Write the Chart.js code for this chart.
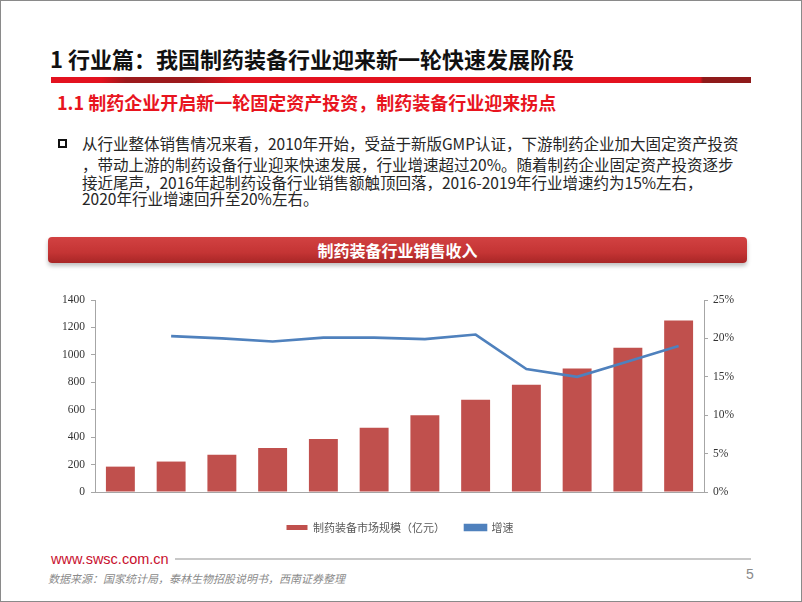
<!DOCTYPE html>
<html>
<head>
<meta charset="utf-8">
<script src="https://cdn.jsdelivr.net/npm/chart.js@4.4.1/dist/chart.umd.min.js"></script>
<style>
  html, body { margin: 0; padding: 0; background: #fff; }
  #page { position: relative; width: 802px; height: 602px; overflow: hidden; font-family: "Noto Sans CJK SC", sans-serif; }
  #frame { position: absolute; left: 0; top: 0; width: 800px; height: 600px; border: 1px solid #8a8a8a; }
  .abs { position: absolute; white-space: nowrap; }
  #title { left: 50px; top: 45px; font-size: 22px; line-height: 26px; font-weight: bold; color: #111; }
  #rule { left: 51px; top: 77px; width: 700px; height: 6px;
    background: linear-gradient(90deg, #e3121f 0px, #e3121f 50px, #9c1a1c 75px, #9c1a1c 140px, #e3121f 185px, #e3121f 645px, #e3121f 649px, #8e1a1a 652px, #8e1a1a 700px); }
  #sub { left: 57px; top: 90px; font-size: 18px; line-height: 24px; font-weight: bold; color: #e8141e; }
  #bullet { left: 58px; top: 139px; width: 5px; height: 5px; border: 2px solid #111; }
  .txt { left: 82px; font-size: 15.5px; line-height: 19px; color: #262626; }
  #banner { left: 48px; top: 237px; width: 699px; height: 26px; border-radius: 4px;
    background: linear-gradient(180deg, #d24242 0%, #c43434 60%, #a82626 100%);
    box-shadow: 0 3px 4px rgba(0,0,0,0.25);
    color: #fff; font-size: 16px; font-weight: bold; line-height: 26px; text-align: center; }
  #chartBox { position: absolute; left: 40px; top: 285px; width: 720px; height: 258px; }
  #url { left: 51px; top: 549px; font-family: "Liberation Sans", Arial, sans-serif; font-size: 14.5px; line-height: 20px; color: #c8102e; }
  #footLine { left: 175px; top: 558px; width: 576px; height: 2px; background: #c8c8c8; }
  #source { left: 48px; top: 570px; font-size: 11px; line-height: 16px; font-style: italic; color: #8a8a8a; }
  #pageNo { left: 746px; top: 566px; font-family: "Liberation Sans", Arial, sans-serif; font-size: 14px; line-height: 16px; color: #8a8a8a; }
</style>
</head>
<body>
<div id="page">
  <div id="frame"></div>
  <div class="abs" id="title">1 行业篇：我国制药装备行业迎来新一轮快速发展阶段</div>
  <div class="abs" id="rule"></div>
  <div class="abs" id="sub">1.1 制药企业开启新一轮固定资产投资，制药装备行业迎来拐点</div>
  <div class="abs" id="bullet"></div>
  <div class="abs txt" style="top:134px">从行业整体销售情况来看，2010年开始，受益于新版GMP认证，下游制药企业加大固定资产投资</div>
  <div class="abs txt" style="top:155px">，带动上游的制药设备行业迎来快速发展，行业增速超过20%。随着制药企业固定资产投资逐步</div>
  <div class="abs txt" style="top:173px">接近尾声，2016年起制药设备行业销售额触顶回落，2016-2019年行业增速约为15%左右，</div>
  <div class="abs txt" style="top:189px">2020年行业增速回升至20%左右。</div>
  <div class="abs" id="banner">制药装备行业销售收入</div>
  <div id="chartBox"><canvas id="chart"></canvas></div>
  <div class="abs" id="url">www.swsc.com.cn</div>
  <div class="abs" id="footLine"></div>
  <div class="abs" id="source">数据来源：国家统计局，泰林生物招股说明书，西南证券整理</div>
  <div class="abs" id="pageNo">5</div>
</div>
<script>
  const years = ["2009", "2010", "2011", "2012", "2013", "2014", "2015", "2016", "2017", "2018", "2019", "2020"];
  const marketSize = [185, 222, 271, 320, 387, 468, 559, 673, 782, 900, 1052, 1250]; // 亿元
  const growthRate = [null, 20.3, 20.0, 19.6, 20.1, 20.1, 19.9, 20.5, 16.0, 15.0, 17.0, 19.0]; // %
  const sizeLabel = "制药装备市场规模（亿元）";
  const growthLabel = "增速";

  const tickFont = { family: "'Liberation Serif', 'Times New Roman', serif", size: 11.5 };
  const axisColor = "#a6a6a6";

  const ctx = document.getElementById("chart").getContext("2d");
  const chart = new Chart(ctx, {
    data: {
      labels: years,
      datasets: [
        {
          type: "bar",
          label: sizeLabel,
          data: marketSize,
          backgroundColor: "#c0504d",
          borderWidth: 0,
          barPercentage: 0.57,
          categoryPercentage: 1,
          yAxisID: "y",
          order: 1,
        },
        {
          type: "line",
          label: growthLabel,
          data: growthRate,
          borderColor: "#4f81bd",
          backgroundColor: "#4f81bd",
          borderWidth: 2.6,
          pointRadius: 0,
          tension: 0,
          yAxisID: "y1",
          order: 0,
        },
      ],
    },
    options: {
      responsive: true,
      maintainAspectRatio: false,
      animation: false,
      layout: { padding: { top: 15, left: 0, right: 0, bottom: 0 } },
      plugins: {
        tooltip: { enabled: false },
        legend: {
          position: "bottom",
          labels: {
            sort: (a, b) => a.datasetIndex - b.datasetIndex,
            boxWidth: 21,
            boxHeight: 5,
            padding: 20,
            color: "#595959",
            font: { family: "'Noto Sans CJK SC', sans-serif", size: 11 },
          },
        },
      },
      scales: {
        x: {
          grid: { display: false },
          border: { display: true, color: axisColor, width: 1 },
          ticks: { color: "#333", font: tickFont, padding: 6, maxRotation: 0 },
          afterFit: (scale) => { scale.height = 10; },
        },
        y: {
          position: "left",
          min: 0,
          max: 1400,
          ticks: { stepSize: 200, color: "#333", font: tickFont, padding: 6, callback: (v) => String(v) },
          grid: { drawOnChartArea: false, drawTicks: true, tickLength: 4, color: axisColor },
          border: { display: true, color: axisColor, width: 1 },
          afterFit: (scale) => { scale.width = 55; },
        },
        y1: {
          position: "right",
          min: 0,
          max: 25,
          ticks: { stepSize: 5, color: "#333", font: tickFont, padding: 5, callback: (v) => v + "%" },
          grid: { drawOnChartArea: false, drawTicks: true, tickLength: 4, color: axisColor },
          border: { display: true, color: axisColor, width: 1 },
          afterFit: (scale) => { scale.width = 56; },
        },
      },
    },
  });
</script>
</body>
</html>
